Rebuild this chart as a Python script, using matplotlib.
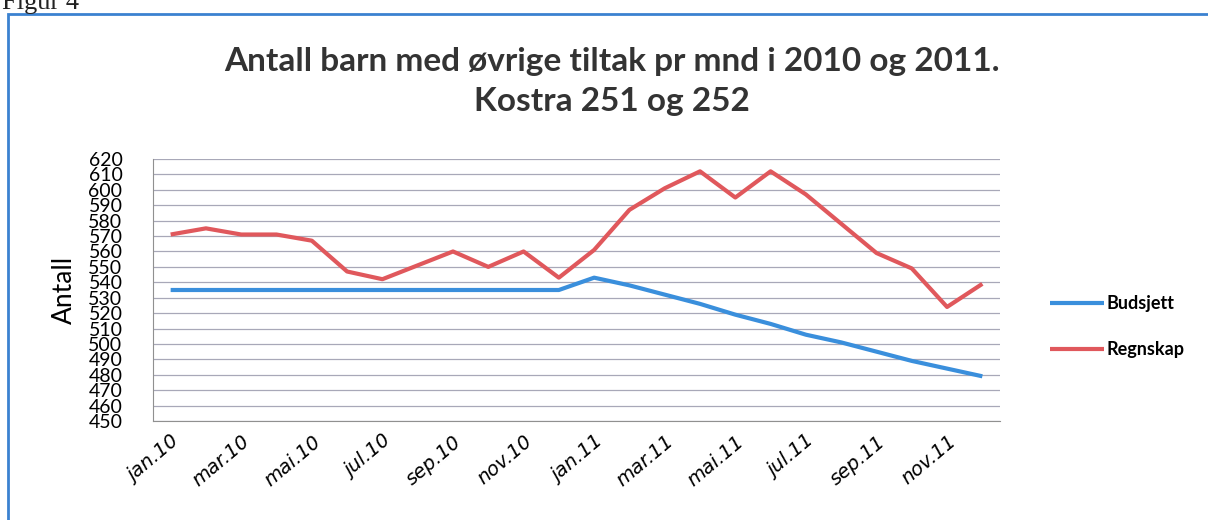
import matplotlib.pyplot as plt
from matplotlib.patches import Rectangle

# data
months = ["jan.10", "feb.10", "mar.10", "apr.10", "mai.10", "jun.10",
          "jul.10", "aug.10", "sep.10", "okt.10", "nov.10", "des.10",
          "jan.11", "feb.11", "mar.11", "apr.11", "mai.11", "jun.11",
          "jul.11", "aug.11", "sep.11", "okt.11", "nov.11", "des.11"]
budsjett = [535, 535, 535, 535, 535, 535, 535, 535, 535, 535, 535, 535,
            543, 538, 532, 526, 519, 513, 506, 501, 495, 489, 484, 479]
regnskap = [571, 575, 571, 571, 567, 547, 542, 551, 560, 550, 560, 543,
            561, 587, 601, 612, 595, 612, 597, 578, 559, 549, 524, 539]
yticks = list(range(450, 621, 10))

W, H = 1208, 520
fig = plt.figure(figsize=(W / 100, H / 100), dpi=100)
fig.patch.set_facecolor("white")

# outer blue frame from the scanned document
fig.patches.append(Rectangle((8 / W, -0.05), 1.1, (H - 14) / H + 0.05,
                             transform=fig.transFigure, fill=False,
                             edgecolor="#3b82d0", linewidth=2))
fig.text(2 / W, 1 - 3 / H, "Figur 4", fontsize=19, family="Liberation Serif",
         va="center", ha="left", color="#222222")

ax = fig.add_axes([153 / W, 1 - 421 / H, (1000 - 153) / W, (421 - 159) / H])
x = list(range(len(months)))
ax.plot(x, budsjett, color="#3a8fdc", lw=3, solid_capstyle="butt", label="Budsjett")
ax.plot(x, regnskap, color="#e0585c", lw=3, solid_capstyle="butt", label="Regnskap")

ax.set_xlim(-0.5, len(months) - 0.5)
ax.set_ylim(450, 620)
ax.set_yticks(yticks)
ax.set_yticklabels([str(v) for v in yticks], fontsize=14, family="Lato")
ax.grid(axis="y", color="#a8a8b8", lw=0.9)
ax.set_axisbelow(True)
ax.tick_params(length=0)
ax.tick_params(axis="y", pad=22)
ax.set_xticks(x[::2])
ax.set_xticklabels(months[::2], rotation=40, ha="right", rotation_mode="anchor",
                   fontsize=14, style="italic", family="DejaVu Sans")
ax.tick_params(axis="x", pad=8)
for s in ["top", "right"]:
    ax.spines[s].set_visible(False)
for s in ["left", "bottom"]:
    ax.spines[s].set_color("#909090")

ax.set_ylabel("Antall", fontsize=19, family="Lato", labelpad=8)

ax.legend(loc="center left", bbox_to_anchor=(1.04, 0.36), frameon=False,
          prop={"family": "Lato", "size": 13, "weight": "bold"},
          handlelength=3, labelspacing=1.6, handletextpad=0.1)

fig.text(612 / W, 1 - 62 / H, "Antall barn med øvrige tiltak pr mnd i 2010 og 2011.",
         fontsize=24, family="Lato", weight="bold", color="#333333",
         ha="center", va="center")
fig.text(612 / W, 1 - 101 / H, "Kostra 251 og 252",
         fontsize=24, family="Lato", weight="bold", color="#333333",
         ha="center", va="center")

fig.savefig("out.png", dpi=100)
